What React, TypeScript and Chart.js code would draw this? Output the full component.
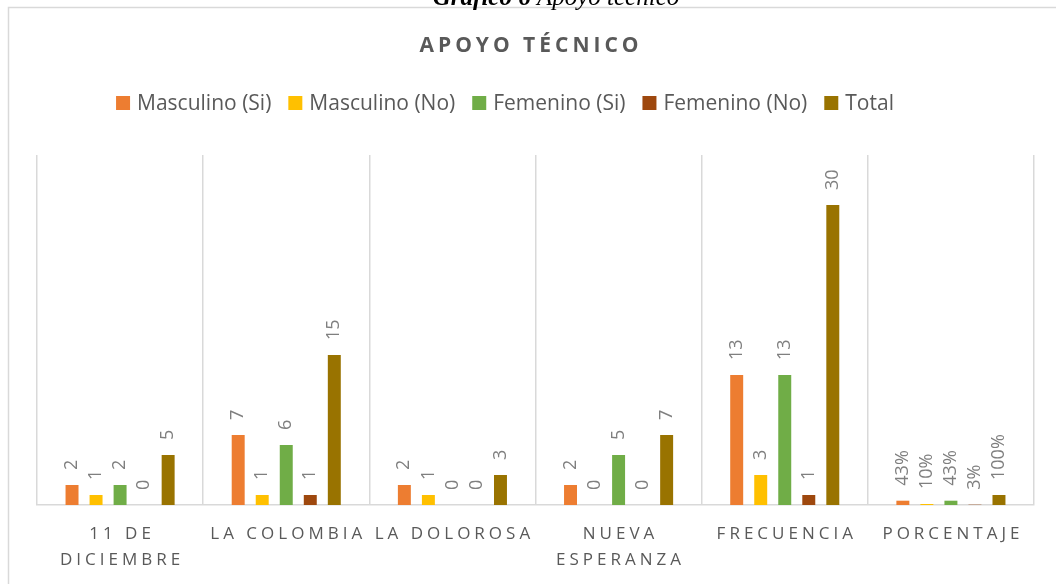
import React, { useEffect, useRef } from "react";
import { Chart, registerables } from "chart.js";

Chart.register(...registerables);

const categories: string[][] = [
  ["11 DE", "DICIEMBRE"],
  ["LA COLOMBIA"],
  ["LA DOLOROSA"],
  ["NUEVA", "ESPERANZA"],
  ["FRECUENCIA"],
  ["PORCENTAJE"],
];

const seriesNames = ["Masculino (Si)", "Masculino (No)", "Femenino (Si)", "Femenino (No)", "Total"];
const seriesColors = ["#ED7D31", "#FFC000", "#70AD47", "#9E480E", "#997300"];

const masculinoSi = [2, 7, 2, 2, 13, 0.43];
const masculinoNo = [1, 1, 1, 0, 3, 0.1];
const femeninoSi = [2, 6, 0, 5, 13, 0.43];
const femeninoNo = [0, 1, 0, 0, 1, 0.03];
const total = [5, 15, 3, 7, 30, 1];

const seriesValues = [masculinoSi, masculinoNo, femeninoSi, femeninoNo, total];

const percentCategory = 5;

const FONT = "'Open Sans', sans-serif";

const decorPlugin = {
  id: "decor",
  beforeDraw(chart: any) {
    const ctx = chart.ctx as CanvasRenderingContext2D;
    ctx.save();
    ctx.fillStyle = "#ffffff";
    ctx.fillRect(0, 0, chart.width, chart.height);
    // frame
    ctx.strokeStyle = "#d9d9d9";
    ctx.lineWidth = 1.5;
    ctx.strokeRect(8.5, 7.5, 1200, 800);
    // caption (cut off at top)
    ctx.fillStyle = "#000000";
    ctx.textBaseline = "alphabetic";
    ctx.textAlign = "left";
    const partA = "Gráfico 6";
    const partB = " Apoyo técnico";
    const capFont = 25;
    ctx.font = `italic bold ${capFont}px 'Liberation Serif', serif`;
    const wA = ctx.measureText(partA).width;
    ctx.font = `italic ${capFont}px 'Liberation Serif', serif`;
    const wB = ctx.measureText(partB).width;
    const startX = 556 - (wA + wB) / 2;
    ctx.font = `italic bold ${capFont}px 'Liberation Serif', serif`;
    ctx.fillText(partA, startX, 5);
    ctx.font = `italic ${capFont}px 'Liberation Serif', serif`;
    ctx.fillText(partB, startX + wA, 5);

    // title
    (ctx as any).letterSpacing = "4px";
    ctx.font = `bold 21px ${FONT}`;
    ctx.fillStyle = "#595959";
    ctx.textAlign = "center";
    ctx.textBaseline = "middle";
    ctx.fillText("APOYO TÉCNICO", 529 + 2, 46);
    (ctx as any).letterSpacing = "0px";

    // legend
    ctx.font = `21px ${FONT}`;
    const box = 14;
    const gapBoxText = 7;
    const gapItems = 17;
    const widths = chart.data.datasets.map((d: any) => ctx.measureText(d.label).width);
    let totalW = 0;
    widths.forEach((w: number, i: number) => {
      totalW += box + gapBoxText + w + (i < widths.length - 1 ? gapItems : 0);
    });
    let x = 505 - totalW / 2;
    const ly = 103;
    ctx.textAlign = "left";
    chart.data.datasets.forEach((d: any, i: number) => {
      ctx.fillStyle = d.backgroundColor;
      ctx.fillRect(x, ly - box / 2, box, box);
      x += box + gapBoxText;
      ctx.fillStyle = "#595959";
      ctx.fillText(d.label, x, ly + 1);
      x += widths[i] + gapItems;
    });

    // x labels
    const xScale = chart.scales.x;
    const ls = 4;
    (ctx as any).letterSpacing = `${ls}px`;
    ctx.font = `17px ${FONT}`;
    ctx.fillStyle = "#595959";
    ctx.textAlign = "center";
    ctx.textBaseline = "middle";
    const labels = chart.data.labels as string[][];
    labels.forEach((lines, i) => {
      const cx = xScale.getPixelForValue(i);
      lines.forEach((line, j) => {
        ctx.fillText(line, cx + ls / 2, 534 + j * 26);
      });
    });
    (ctx as any).letterSpacing = "0px";
    ctx.restore();
  },
  afterDatasetsDraw(chart: any) {
    const ctx = chart.ctx as CanvasRenderingContext2D;
    ctx.save();
    ctx.font = `18px ${FONT}`;
    ctx.fillStyle = "#7f7f7f";
    ctx.textAlign = "left";
    ctx.textBaseline = "middle";
    chart.data.datasets.forEach((d: any, di: number) => {
      const meta = chart.getDatasetMeta(di);
      meta.data.forEach((el: any, i: number) => {
        const v = d.data[i] as number;
        const text = i === percentCategory ? `${Math.round(v * 100)}%` : String(v);
        ctx.save();
        ctx.translate(el.x, el.y - 15);
        ctx.rotate(-Math.PI / 2);
        ctx.fillText(text, 0, 0);
        ctx.restore();
      });
    });
    ctx.restore();
  },
};

export default function App() {
  const ref = useRef<HTMLCanvasElement | null>(null);
  useEffect(() => {
    if (!ref.current) return;
    const chart = new Chart(ref.current, {
      type: "bar",
      data: {
        labels: categories as any,
        datasets: seriesNames.map((name, i) => ({
          label: name,
          data: seriesValues[i],
          backgroundColor: seriesColors[i],
          borderWidth: 0,
          categoryPercentage: 0.723,
          barPercentage: 0.54,
        })),
      },
      options: {
        responsive: false,
        animation: false,
        devicePixelRatio: 1,
        layout: { padding: { left: 37, right: 22, top: 155, bottom: 79 } },
        plugins: {
          legend: { display: false },
          title: { display: false },
          tooltip: { enabled: false },
        },
        scales: {
          x: {
            grid: { offset: true, color: "#d9d9d9", lineWidth: 1.5, drawTicks: false },
            border: { display: true, color: "#d9d9d9", width: 1.5 },
            ticks: { display: false },
          },
          y: { display: false, min: 0, max: 35 },
        },
      },
      plugins: [decorPlugin],
    });
    return () => chart.destroy();
  }, []);
  return (
    <div style={{ position: "absolute", left: 0, top: 0, width: 1056, height: 584 }}>
      <canvas ref={ref} width={1056} height={584} style={{ display: "block" }} />
    </div>
  );
}
